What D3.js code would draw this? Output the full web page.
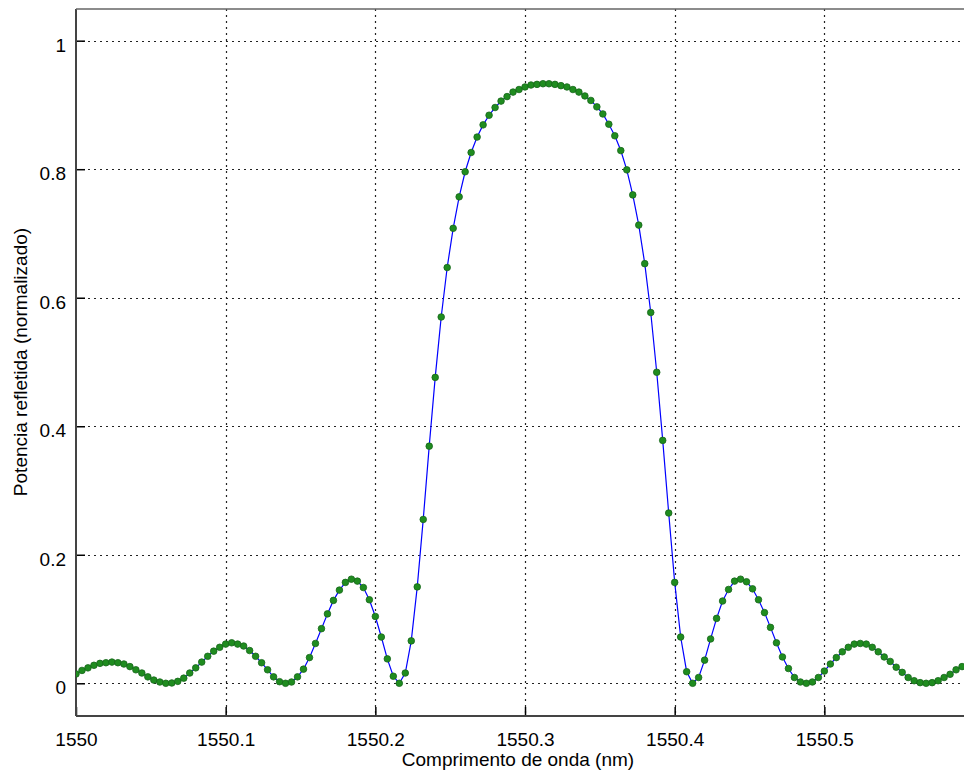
<!DOCTYPE html>
<html>
<head>
<meta charset="utf-8">
<script src="https://cdn.jsdelivr.net/npm/d3@7/dist/d3.min.js"></script>
<style>
  html, body { margin: 0; padding: 0; background: #fff; }
  svg { display: block; }
  text { font-family: "Liberation Sans", Arial, sans-serif; fill: #000; }
</style>
</head>
<body>
<svg id="chart" width="964" height="773"></svg>
<script>
// Wavelengths (nm)
const wavelength = [
  1550.000,1550.004,1550.008,1550.012,1550.016,1550.020,1550.024,1550.028,1550.032,1550.036,
  1550.040,1550.044,1550.048,1550.052,1550.056,1550.060,1550.064,1550.068,1550.072,1550.076,
  1550.080,1550.084,1550.088,1550.092,1550.096,1550.100,1550.104,1550.108,1550.112,1550.116,
  1550.120,1550.124,1550.128,1550.132,1550.136,1550.140,1550.144,1550.148,1550.152,1550.156,
  1550.160,1550.164,1550.168,1550.172,1550.176,1550.180,1550.184,1550.188,1550.192,1550.196,
  1550.200,1550.204,1550.208,1550.212,1550.216,1550.220,1550.224,1550.228,1550.232,1550.236,
  1550.240,1550.244,1550.248,1550.252,1550.256,1550.260,1550.264,1550.268,1550.272,1550.276,
  1550.280,1550.284,1550.288,1550.292,1550.296,1550.300,1550.304,1550.308,1550.312,1550.316,
  1550.320,1550.324,1550.328,1550.332,1550.336,1550.340,1550.344,1550.348,1550.352,1550.356,
  1550.360,1550.364,1550.368,1550.372,1550.376,1550.380,1550.384,1550.388,1550.392,1550.396,
  1550.400,1550.404,1550.408,1550.412,1550.416,1550.420,1550.424,1550.428,1550.432,1550.436,
  1550.440,1550.444,1550.448,1550.452,1550.456,1550.460,1550.464,1550.468,1550.472,1550.476,
  1550.480,1550.484,1550.488,1550.492,1550.496,1550.500,1550.504,1550.508,1550.512,1550.516,
  1550.520,1550.524,1550.528,1550.532,1550.536,1550.540,1550.544,1550.548,1550.552,1550.556,
  1550.560,1550.564,1550.568,1550.572,1550.576,1550.580,1550.584,1550.588,1550.592
];
// Normalized reflected power
const reflectance = [
  0.0145,0.020,0.024,0.028,0.031,0.032,0.033,0.032,0.030,0.026,
  0.021,0.016,0.010,0.005,0.002,0.000,0.0005,0.003,0.008,0.016,
  0.024,0.033,0.042,0.050,0.056,0.061,0.063,0.061,0.058,0.051,
  0.042,0.032,0.021,0.010,0.0025,0.000,0.002,0.010,0.022,0.040,
  0.062,0.085,0.108,0.129,0.145,0.157,0.162,0.159,0.149,0.130,
  0.104,0.072,0.038,0.011,0.000,0.016,0.066,0.150,0.255,0.369,
  0.476,0.570,0.647,0.708,0.757,0.796,0.826,0.850,0.869,0.884,
  0.896,0.906,0.913,0.920,0.924,0.928,0.931,0.932,0.933,0.933,
  0.932,0.930,0.928,0.924,0.920,0.914,0.907,0.897,0.886,0.870,
  0.852,0.829,0.799,0.760,0.713,0.653,0.577,0.484,0.378,0.265,
  0.157,0.072,0.018,0.000,0.009,0.036,0.069,0.101,0.128,0.146,
  0.159,0.162,0.158,0.147,0.130,0.110,0.087,0.063,0.041,0.023,
  0.009,0.002,0.000,0.002,0.009,0.019,0.030,0.040,0.049,0.056,
  0.061,0.062,0.061,0.056,0.049,0.041,0.034,0.025,0.017,0.009,
  0.004,0.001,0.000,0.001,0.004,0.009,0.014,0.021,0.026
];
const xTickValues = [1550, 1550.1, 1550.2, 1550.3, 1550.4, 1550.5];
const xTickLabels = ["1550", "1550.1", "1550.2", "1550.3", "1550.4", "1550.5"];
const yTickValues = [0, 0.2, 0.4, 0.6, 0.8, 1];
const yTickLabels = ["0", "0.2", "0.4", "0.6", "0.8", "1"];

(function () {
const data = wavelength.map((w, i) => ({ x: w, y: reflectance[i] }));

const svg = d3.select("#chart");
const pL = 76, pR = 964, pT = 9, pB = 716;

const x = d3.scaleLinear().domain([1550, 1550.5933]).range([pL, pR]);
const y = d3.scaleLinear().domain([-0.0509, 1.0493]).range([pB, pT]);

svg.append("defs").append("clipPath").attr("id", "plotclip")
  .append("rect").attr("x", pL).attr("y", pT).attr("width", pR - pL).attr("height", pB - pT);

// Grid lines
const grid = svg.append("g").attr("stroke", "#222").attr("stroke-width", 1.2)
  .attr("stroke-dasharray", "2,4").attr("fill", "none");
grid.selectAll(".vg").data(xTickValues.slice(1)).enter().append("line")
  .attr("x1", d => Math.round(x(d)) + 0.5).attr("x2", d => Math.round(x(d)) + 0.5)
  .attr("y1", pT).attr("y2", pB);
grid.selectAll(".hg").data(yTickValues).enter().append("line")
  .attr("x1", pL).attr("x2", pR)
  .attr("y1", d => Math.round(y(d)) + 0.5).attr("y2", d => Math.round(y(d)) + 0.5);

// Axes
const xAxis = d3.axisBottom(x).tickValues(xTickValues)
  .tickFormat((d, i) => xTickLabels[i]).tickSizeInner(-9).tickSizeOuter(0).tickPadding(16.5);
const gx = svg.append("g").attr("transform", `translate(0,${pB})`).call(xAxis);
gx.select(".domain").remove();
gx.selectAll(".tick line").attr("stroke", "#000").attr("stroke-width", 1.5);
gx.selectAll(".tick text").style("font-size", "19px").style("font-family", "'Liberation Sans', Arial, sans-serif").attr("fill", "#000");

const yAxis = d3.axisLeft(y).tickValues(yTickValues)
  .tickFormat((d, i) => yTickLabels[i]).tickSizeInner(-9).tickSizeOuter(0).tickPadding(10);
const gy = svg.append("g").attr("transform", `translate(${pL},0)`).call(yAxis);
gy.select(".domain").remove();
gy.selectAll(".tick line").attr("stroke", "#000").attr("stroke-width", 1.5);
gy.selectAll(".tick text").style("font-size", "19px").style("font-family", "'Liberation Sans', Arial, sans-serif")
  .attr("fill", "#000").attr("dy", "0.55em");

// Frame lines (left, bottom, top)
const frame = svg.append("g").attr("stroke", "#444").attr("stroke-width", 2).attr("fill", "none");
frame.append("line").attr("x1", pL).attr("x2", pL).attr("y1", pT).attr("y2", pB);
frame.append("line").attr("x1", pL).attr("x2", pR).attr("y1", pB).attr("y2", pB);
frame.append("line").attr("x1", pL).attr("x2", pR).attr("y1", pT).attr("y2", pT).attr("stroke", "#666").attr("stroke-width", 1.5);

// Data line + points
const plot = svg.append("g").attr("clip-path", "url(#plotclip)");
plot.append("path").datum(data)
  .attr("fill", "none").attr("stroke", "#0000ff").attr("stroke-width", 1.2)
  .attr("d", d3.line().x(d => x(d.x)).y(d => y(d.y)));
plot.selectAll("circle").data(data).enter().append("circle")
  .attr("cx", d => x(d.x)).attr("cy", d => y(d.y)).attr("r", 3.3)
  .attr("fill", "#1f8c1f").attr("stroke", "#16661a").attr("stroke-width", 0.8);

// Axis titles
svg.append("text").attr("x", 518).attr("y", 766).attr("text-anchor", "middle")
  .style("font-size", "19px").text("Comprimento de onda (nm)");
svg.append("text").attr("transform", "translate(27,362) rotate(-90)").attr("text-anchor", "middle")
  .style("font-size", "19px").text("Potencia refletida (normalizado)");
})();
</script>
</body>
</html>
